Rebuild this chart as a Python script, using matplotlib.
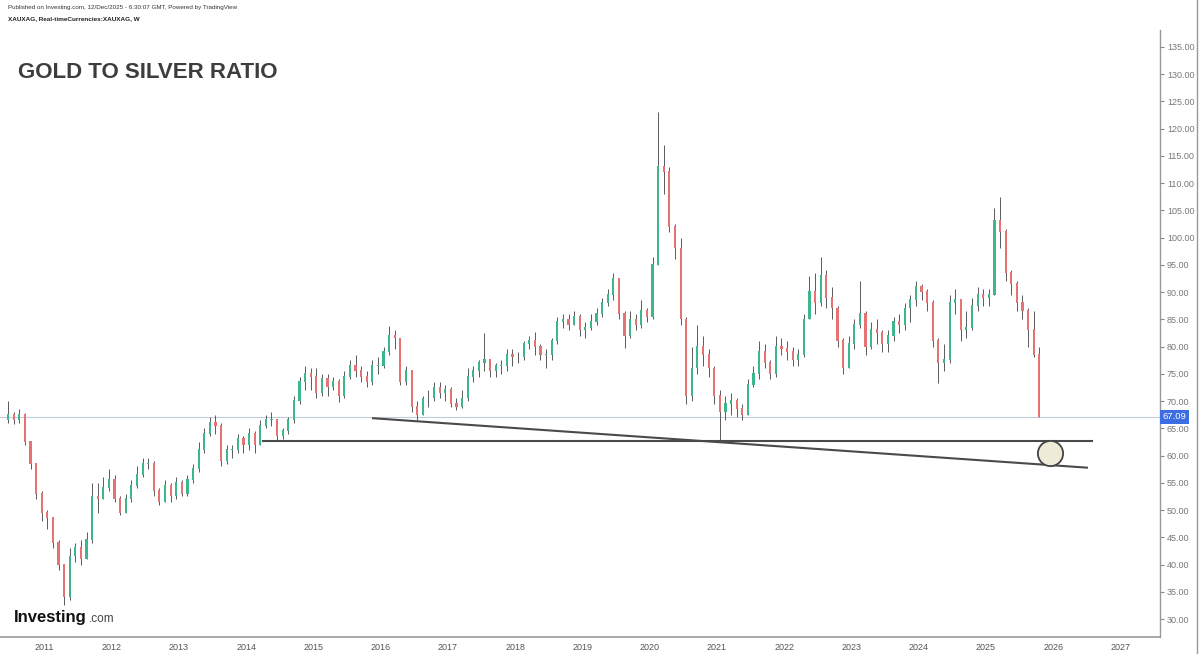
import numpy as np
import matplotlib.pyplot as plt
from matplotlib.lines import Line2D
import matplotlib.transforms as mtransforms

plt.rcParams['font.family'] = ['Liberation Sans', 'DejaVu Sans']

# monthly candles, first candle = Jun 2010
start_year, start_month = 2010, 6
first_open = 66.5

close = [67.5, 66.5, 67.5, 62.5, 58.5, 53, 49.5,
         48.5, 44, 40, 34, 41.5, 43, 41, 44.5, 52.5, 52, 54, 55.5,
         52, 49.5, 52, 54.5, 56.5, 58.5, 58.5, 53.5, 51.5, 54.5, 52.5, 55,
         53, 55.5, 57.5, 61, 64, 66, 65.5, 59, 61, 61, 63, 62,
         64, 62, 65.5, 66.5, 66.5, 63.5, 64.5, 66.5, 70, 73.5, 75, 74.5,
         71.5, 74, 72.5, 73.5, 71, 74.5, 76.5, 75.5, 74.5, 73.5, 76.5, 76.5,
         79, 82, 81.5, 73.5, 75.5, 69, 67.5, 70.5, 70.5, 72.5, 71.5, 72,
         69.5, 69, 70.5, 74.5, 75.5, 77, 77.5, 75.5, 76.5, 76.5, 78.5, 78,
         78, 80.5, 81, 80, 78.5, 78.5, 81, 84.5, 85, 84, 85.5, 83,
         83.5, 84.5, 86, 88, 89.5, 92.5, 86, 82, 85, 84, 86.5, 85.5,
         95, 113, 112, 102, 98, 85, 71, 76, 80, 78.5, 76, 71,
         68, 69.5, 70, 68.5, 67.5, 73, 75, 79, 77, 75, 80, 79.5,
         79, 77.5, 78.5, 85, 90, 88, 93, 89, 87, 81, 76, 80.5,
         84, 86, 80, 83, 82.5, 80.5, 82, 84.5, 84, 87, 88.5, 91,
         90, 88, 81, 77, 77.5, 88, 88.5, 83, 83.5, 87.5, 89.5, 89,
         89.5, 103, 101, 93.5, 91.5, 88, 86.5, 83, 78.5, 67.09]

high = [70, 68, 68.5, 67.8, 62.5, 58.5, 53.5,
        50, 48.5, 44.5, 40, 43, 44, 44.5, 46, 55, 55, 56, 57.5,
        56.5, 52.5, 53, 55.5, 58, 59.5, 59.5, 59, 54, 55.5, 55, 56,
        55.5, 56.5, 58.5, 62.5, 65, 67, 67.5, 66, 62, 62, 64, 63.5,
        65, 64.5, 66.5, 67.5, 68, 66.5, 65, 67, 71, 74.5, 76.5, 76,
        76, 75, 75, 74.5, 74, 75.5, 77.5, 78.5, 76.5, 75.5, 77.5, 78,
        80, 83.8, 83, 81.5, 76.5, 75.5, 70, 71, 72, 73.5, 73.5, 73,
        72.5, 70.5, 72, 76, 76.5, 77.5, 82.5, 77.5, 77, 77.5, 79.5, 79.5,
        79, 81, 82, 82.6, 80.5, 79.5, 81.5, 85.5, 86, 86, 86.5, 86,
        84.5, 86, 87, 89, 90.5, 93.5, 92.5, 86.5, 86.5, 86, 88.5, 87,
        96.5, 123, 117, 113, 102.5, 100, 85.5, 80, 84, 82, 79.5, 76.5,
        72, 71, 71.5, 70.5, 69.5, 74, 76.5, 81, 80.5, 77.5, 82, 81.5,
        81, 80, 79.5, 86, 93, 93.5, 96.5, 94, 91, 87.5, 81.5, 82,
        85, 92, 86.5, 84.5, 85, 83, 83, 85.5, 86, 88, 89.5, 92,
        91.5, 90.5, 88.5, 81.5, 80.5, 89.5, 90.5, 88.5, 86.5, 89, 91, 90.5,
        90.5, 105.5, 107.5, 101.5, 94, 92, 89.5, 87, 86.5, 80]

low = [66, 65.8, 66, 62, 57.5, 52, 48,
       46.5, 43, 39, 32.5, 33.5, 40.5, 40, 41, 44, 49.5, 52, 53.5,
       51.5, 49, 49.5, 51.5, 54, 56, 57.5, 52.5, 51, 51.5, 51.5, 52,
       52.5, 52.5, 55, 57, 60.5, 63.5, 64, 58, 58.5, 59.5, 60.5, 60.5,
       61, 60.5, 62, 65, 65.5, 62.8, 63, 64, 66, 69.5, 72, 72,
       70.5, 71, 71, 72, 69.8, 70.5, 74, 74.5, 73.5, 72.5, 73, 75,
       76, 78.5, 79.5, 73, 73, 68, 66.3, 67.5, 69, 70, 70.5, 70,
       69, 68.3, 68.8, 70, 73.5, 74.5, 75.5, 74.5, 74.5, 75, 75.5, 76.5,
       77, 77.5, 79.5, 78.5, 77.5, 76, 77.5, 80.5, 83.5, 83, 84, 82,
       81.5, 83, 84, 85.5, 87.5, 88.5, 85, 79.7, 81.5, 83, 83.5, 84.5,
       85, 95, 108, 101, 96, 84, 69.5, 70, 75, 76.5, 74.5, 69.5,
       62.8, 66.5, 67.5, 67, 66.5, 67.5, 72.5, 74, 76, 74, 74.5, 78.5,
       77.5, 76.5, 76.5, 78, 85, 86, 87.5, 87, 85, 80, 75, 76,
       79.5, 83.5, 78.5, 79.5, 80.5, 79, 79, 81, 82.5, 83, 84.5, 87.5,
       88.5, 86.5, 80, 73.3, 75.5, 77, 86, 81, 81.5, 83, 86.5, 87.5,
       87.5, 89.5, 98, 92, 89.5, 86.5, 85, 80, 78, 67]

last_price = 67.09
years = list(range(2011, 2028))
price_ticks = list(range(30, 140, 5))

# drawn trend lines and the marked target
support_x = [2014.25, 2026.58]
support_y = [62.68, 62.68]
trend_x = [2015.885, 2026.50]
trend_y = [66.85, 57.78]
target = (2025.95, 60.4)

close = np.array(close)
high = np.array(high)
low = np.array(low)
opn = np.concatenate([[first_open], close[:-1]])
t = start_year + (start_month - 1 + np.arange(len(close)) + 0.5) / 12

fig = plt.figure(figsize=(12, 6.54), dpi=100)
ax = fig.add_axes([0, 17 / 654, 1160 / 1200, 607 / 654])

up = close >= opn
col = np.where(up, '#3cb68a', '#e57373')
ax.vlines(t, low, high, color='#5a5a5a', lw=0.7, zorder=2)
ax.bar(t, np.abs(close - opn) + 0.15, bottom=np.minimum(opn, close),
       width=0.032, color=col, edgecolor='none', zorder=3)

ax.axhline(last_price, color='#c5cad8', lw=0.8, zorder=1)
ax.plot(support_x, support_y, color='#4a4a4a', lw=1.5, zorder=4)
ax.plot(trend_x, trend_y, color='#4a4a4a', lw=1.5, zorder=4)
ax.scatter([target[0]], [target[1]], s=330, facecolor='#eeecd9',
           edgecolor='#444444', lw=1.3, zorder=5)

ax.set_xlim(2010.338, 2027.587)
ax.set_ylim(26.7, 138.1)

ax.set_xticks(years)
ax.set_xticklabels([str(y) for y in years])
ax.set_yticks(price_ticks)
ax.set_yticklabels(['%.2f' % p for p in price_ticks])
ax.yaxis.tick_right()
ax.tick_params(axis='y', direction='out', length=3, width=0.8, pad=2,
               colors='#888888', labelsize=6.5, labelcolor='#777777')
ax.tick_params(axis='x', direction='out', length=0, pad=4,
               labelsize=6.5, labelcolor='#555555')
for s in ['left', 'top']:
    ax.spines[s].set_visible(False)
ax.spines['bottom'].set_color('#999999')
ax.spines['bottom'].set_linewidth(1.2)
ax.spines['right'].set_color('#999999')
ax.spines['right'].set_linewidth(1.0)

# last price badge on the price scale
trans = mtransforms.blended_transform_factory(ax.transAxes, ax.transData)
ax.text(1.002, last_price, '%.2f' % last_price, transform=trans,
        fontsize=6.8, color='white', va='center', ha='left',
        bbox=dict(boxstyle='square,pad=0.25', fc='#3d6de3', ec='none'),
        zorder=6, clip_on=False)

fig.add_artist(Line2D([1197 / 1200, 1197 / 1200], [0, 1], color='#999999', lw=1.0))

fig.text(8 / 1200, 1 - 8 / 654, 'Published on Investing.com, 12/Dec/2025 - 6:30:07 GMT, Powered by TradingView',
         fontsize=4.5, color='#333333', va='center')
fig.text(8 / 1200, 1 - 19 / 654, 'XAUXAG, Real-timeCurrencies:XAUXAG, W',
         fontsize=4.6, fontweight='bold', color='#222222', va='center')
fig.text(18 / 1200, 1 - 72 / 654, 'GOLD TO SILVER RATIO', fontsize=16,
         fontweight='bold', color='#3d3d3d', va='center')
fig.text(14 / 1200, 1 - 622 / 654, 'Investing', fontsize=12,
         fontweight='bold', color='#111111', va='baseline')
fig.text(89 / 1200, 1 - 622 / 654, '.com', fontsize=8.5,
         color='#444444', va='baseline')

fig.savefig('out.png', dpi=100)
